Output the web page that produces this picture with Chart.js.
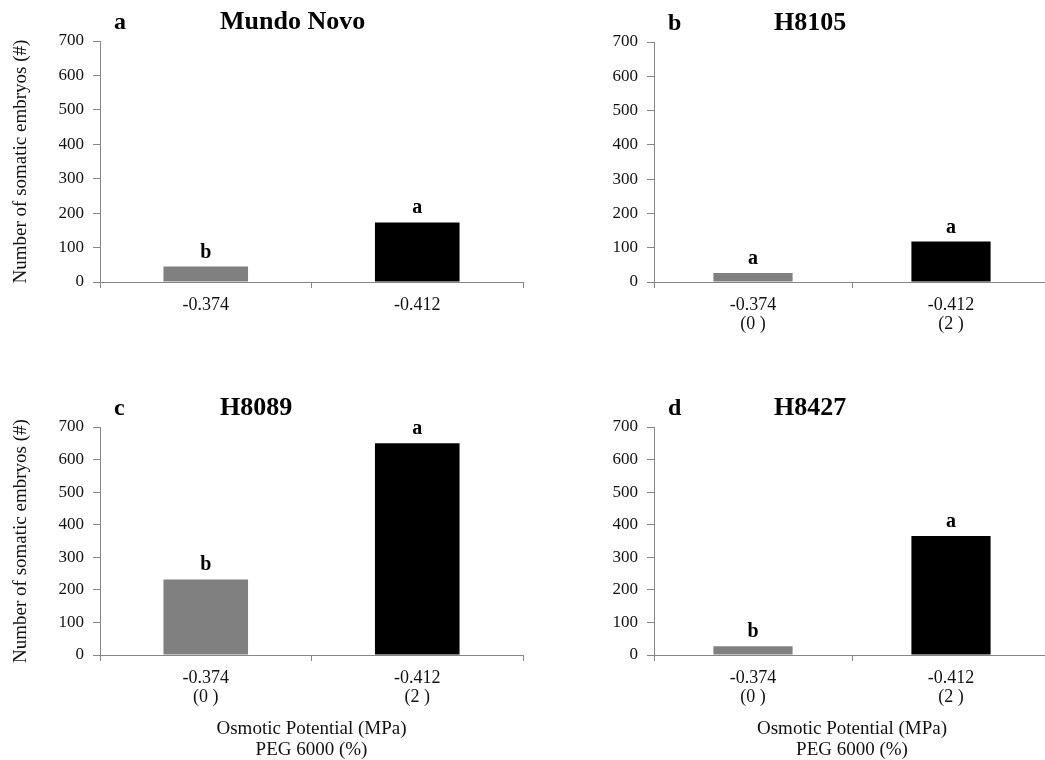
<!DOCTYPE html>
<html>
<head>
<meta charset="utf-8">
<script src="https://cdn.jsdelivr.net/npm/chart.js@4.4.0/dist/chart.umd.min.js"></script>
<style>
html, body { margin: 0; padding: 0; background: #fff; overflow: hidden; width: 1045px; height: 760px; }
canvas { position: absolute; }
</style>
</head>
<body>
<canvas id="panelA" width="540" height="360" style="left:0;top:0"></canvas>
<canvas id="panelB" width="540" height="360" style="left:520px;top:0"></canvas>
<canvas id="panelC" width="540" height="390" style="left:0;top:370px"></canvas>
<canvas id="panelD" width="540" height="390" style="left:520px;top:370px"></canvas>
<script>
// osmotic potential (MPa) and PEG 6000 (%) per treatment
const potentials = ['-0.374', '-0.412'];
const pegLevels = ['(0 )', '(2 )'];

// number of somatic embryos per genotype
const mundoNovo = [45, 173];
const h8105 = [26, 118];
const h8089 = [232, 650];
const h8427 = [27, 365];

// significance letters above the bars
const mundoNovoMarks = ['b', 'a'];
const h8105Marks = ['a', 'a'];
const h8089Marks = ['b', 'a'];
const h8427Marks = ['b', 'a'];

const yMax = 700;
const yStep = 100;

const serif = '"Liberation Serif", "Times New Roman", serif';
const axisGray = '#868686';
const barColors = ['#808080', '#000000'];

// draws panel letter, genotype name and the letters over the bars
const panelText = {
    id: 'panelText',
    afterDatasetsDraw(chart, args, opts) {
        const { ctx, chartArea } = chart;
        ctx.save();
        ctx.fillStyle = '#000';
        ctx.textBaseline = 'alphabetic';
        ctx.textAlign = 'left';
        ctx.font = 'bold 24px ' + serif;
        ctx.fillText(opts.letter, chartArea.left + 14, chartArea.top - 12);
        ctx.font = 'bold 26px ' + serif;
        ctx.fillText(opts.title, chartArea.left + 120, chartArea.top - 12);

        ctx.font = 'bold 20px ' + serif;
        ctx.textAlign = 'center';
        chart.getDatasetMeta(0).data.forEach((bar, i) => {
            ctx.fillText(opts.marks[i], bar.x, bar.y - 9);
        });
        ctx.restore();
    }
};

function makePanel(canvasId, values, marks, letter, title, labels, cfg) {
    const ctx = document.getElementById(canvasId).getContext('2d');
    new Chart(ctx, {
        type: 'bar',
        data: {
            labels: labels,
            datasets: [{
                data: values,
                backgroundColor: barColors,
                borderWidth: 0,
                barPercentage: 0.4,
                categoryPercentage: 1
            }]
        },
        options: {
            responsive: false,
            animation: false,
            events: [],
            layout: { padding: { top: cfg.top, right: cfg.right, left: 0, bottom: 0 } },
            plugins: {
                legend: { display: false },
                tooltip: { enabled: false },
                panelText: { letter: letter, title: title, marks: marks }
            },
            scales: {
                x: {
                    afterFit: (scale) => { scale.height = cfg.xHeight; },
                    grid: { drawOnChartArea: false, drawTicks: true, tickLength: 6, color: axisGray, offset: true },
                    border: { color: axisGray, width: 1 },
                    ticks: {
                        color: '#111',
                        padding: 7,
                        maxRotation: 0,
                        font: { family: serif, size: 18, lineHeight: 1.1 }
                    },
                    title: {
                        display: cfg.xTitle,
                        text: ['Osmotic Potential (MPa)', 'PEG 6000 (%)'],
                        color: '#111',
                        padding: { top: 0, bottom: 0 },
                        font: { family: serif, size: 19, lineHeight: 1.1 }
                    }
                },
                y: {
                    min: 0,
                    max: yMax,
                    afterFit: (scale) => { scale.width = cfg.yWidth; },
                    grid: { drawOnChartArea: false, drawTicks: true, tickLength: 7, color: axisGray },
                    border: { color: axisGray, width: 1 },
                    ticks: {
                        stepSize: yStep,
                        color: '#111',
                        padding: 9,
                        font: { family: serif, size: 17 }
                    },
                    title: {
                        display: cfg.yTitle,
                        text: 'Number of somatic embryos (#)',
                        color: '#111',
                        padding: { top: 10, bottom: 0 },
                        font: { family: serif, size: 19 }
                    }
                }
            }
        },
        plugins: [panelText]
    });
}

const twoLine = potentials.map((p, i) => [p, pegLevels[i]]);

makePanel('panelA', mundoNovo, mundoNovoMarks, 'a', 'Mundo Novo', potentials,
    { top: 41, right: 17, xHeight: 78, yWidth: 100, yTitle: true, xTitle: false });
makePanel('panelB', h8105, h8105Marks, 'b', 'H8105', twoLine,
    { top: 42, right: 10, xHeight: 78, yWidth: 134, yTitle: false, xTitle: false });
makePanel('panelC', h8089, h8089Marks, 'c', 'H8089', twoLine,
    { top: 57, right: 17, xHeight: 105, yWidth: 100, yTitle: true, xTitle: true });
makePanel('panelD', h8427, h8427Marks, 'd', 'H8427', twoLine,
    { top: 57, right: 10, xHeight: 105, yWidth: 134, yTitle: false, xTitle: true });
</script>
</body>
</html>
